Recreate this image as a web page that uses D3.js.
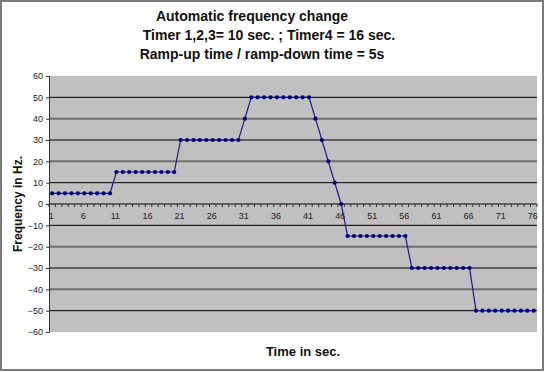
<!DOCTYPE html>
<html>
<head>
<meta charset="utf-8">
<script src="https://cdn.jsdelivr.net/npm/d3@7"></script>
<style>
  body { margin: 0; background: #fff; }
  svg { display: block; font-family: "Liberation Sans", Arial, sans-serif; }
</style>
</head>
<body>
<svg id="chart" width="545" height="372"></svg>
<script>
// time in seconds (category labels)
var seconds = [1,2,3,4,5,6,7,8,9,10,11,12,13,14,15,16,17,18,19,20,
  21,22,23,24,25,26,27,28,29,30,31,32,33,34,35,36,37,38,39,40,
  41,42,43,44,45,46,47,48,49,50,51,52,53,54,55,56,57,58,59,60,
  61,62,63,64,65,66,67,68,69,70,71,72,73,74,75,76]

// frequency in Hz at each second
var frequency = [5,5,5,5,5,5,5,5,5,5,
  15,15,15,15,15,15,15,15,15,15,
  30,30,30,30,30,30,30,30,30,30,
  40,
  50,50,50,50,50,50,50,50,50,50,
  40,30,20,10,0,
  -15,-15,-15,-15,-15,-15,-15,-15,-15,-15,
  -30,-30,-30,-30,-30,-30,-30,-30,-30,-30,
  -50,-50,-50,-50,-50,-50,-50,-50,-50,-50]

var yTicks = [-60,-50,-40,-30,-20,-10,0,10,20,30,40,50,60]
var xLabelEvery = 5

var titleLines = [
  {text: "Automatic frequency change", cx: 252, y: 21},
  {text: "Timer 1,2,3= 10 sec. ; Timer4 = 16 sec.", cx: 269, y: 40},
  {text: "Ramp-up time / ramp-down time = 5s", cx: 262, y: 59}
]

var svg = d3.select("#chart")
var plot = {left: 49, right: 537, top: 76, bottom: 332}

// outer chart frame
svg.append("rect")
  .attr("x", 1).attr("y", 1).attr("width", 542).attr("height", 369)
  .attr("fill", "#fff").attr("stroke", "#7a7a7a").attr("stroke-width", 2)

var x = d3.scaleBand().domain(seconds).range([plot.left, plot.right]).paddingInner(0).paddingOuter(0)
var y = d3.scaleLinear().domain([-60, 60]).range([plot.bottom, plot.top])

// plot background
svg.append("rect")
  .attr("x", plot.left).attr("y", plot.top)
  .attr("width", plot.right - plot.left).attr("height", plot.bottom - plot.top)
  .attr("fill", "#c0c0c0")

// gridlines (the downscaled picture shows alternating dark/grey lines)
svg.append("g").selectAll("line")
  .data(yTicks.filter(function(d){ return d != 0 && Math.abs(d) != 60 }))
  .join("line")
  .attr("x1", plot.left).attr("x2", plot.right)
  .attr("y1", function(d){ return y(d) }).attr("y2", function(d){ return y(d) })
  .attr("stroke", function(d){ return Math.abs(d) % 20 == 0 ? "#707070" : "#000" })
  .attr("stroke-width", function(d){ return Math.abs(d) % 20 == 0 ? 2 : 1 })

// y axis
var yAxis = svg.append("g")
  .attr("transform", `translate(${plot.left},0)`)
  .call(d3.axisLeft(y).tickValues(yTicks).tickSize(3).tickPadding(3))
yAxis.select(".domain").attr("stroke", "#333")
yAxis.selectAll(".tick line").attr("stroke", "#333")
yAxis.selectAll("text").attr("font-size", 9).attr("fill", "#222")
  .attr("font-family", "Liberation Sans, Arial, sans-serif")

// x axis on the zero line: tick marks between categories, labels every 5th second
var xAxisG = svg.append("g").attr("transform", `translate(0,${y(0)})`)
xAxisG.append("line")
  .attr("x1", plot.left).attr("x2", plot.right)
  .attr("stroke", "#000").attr("stroke-width", 1)
xAxisG.selectAll(".tk")
  .data(seconds.concat([null]))
  .join("line")
  .attr("class", "tk")
  .attr("x1", function(d, i){ return plot.left + i * x.step() })
  .attr("x2", function(d, i){ return plot.left + i * x.step() })
  .attr("y1", 0).attr("y2", 3)
  .attr("stroke", "#333")
xAxisG.selectAll(".lbl")
  .data(seconds.filter(function(d, i){ return i % xLabelEvery == 0 }))
  .join("text")
  .attr("class", "lbl")
  .attr("x", function(d){ return x(d) + x.bandwidth() / 2 - 1 })
  .attr("y", 15)
  .attr("text-anchor", "middle")
  .attr("font-size", 9).attr("fill", "#222")
  .text(function(d){ return d })

// series line + markers
var pts = seconds.map(function(s, i){ return {s: s, v: frequency[i]} })
var line = d3.line()
  .x(function(d){ return x(d.s) + x.bandwidth() / 2 })
  .y(function(d){ return y(d.v) })

svg.append("path")
  .datum(pts)
  .attr("d", line)
  .attr("fill", "none")
  .attr("stroke", "#1a1a80")
  .attr("stroke-width", 1.2)

svg.append("g").selectAll("circle")
  .data(pts)
  .join("circle")
  .attr("cx", function(d){ return x(d.s) + x.bandwidth() / 2 })
  .attr("cy", function(d){ return y(d.v) })
  .attr("r", 2.1)
  .attr("fill", "#000080")

// titles
svg.append("g").selectAll("text")
  .data(titleLines)
  .join("text")
  .attr("x", function(d){ return d.cx }).attr("y", function(d){ return d.y })
  .attr("text-anchor", "middle")
  .attr("font-size", 14).attr("font-weight", "bold").attr("fill", "#111")
  .text(function(d){ return d.text })

svg.append("text")
  .attr("transform", "translate(22,204) rotate(-90)")
  .attr("text-anchor", "middle")
  .attr("font-size", 12).attr("font-weight", "bold").attr("fill", "#111")
  .text("Frequency in Hz.")

svg.append("text")
  .attr("x", 303).attr("y", 356)
  .attr("text-anchor", "middle")
  .attr("font-size", 13).attr("font-weight", "bold").attr("fill", "#111")
  .text("Time in sec.")
</script>
</body>
</html>
